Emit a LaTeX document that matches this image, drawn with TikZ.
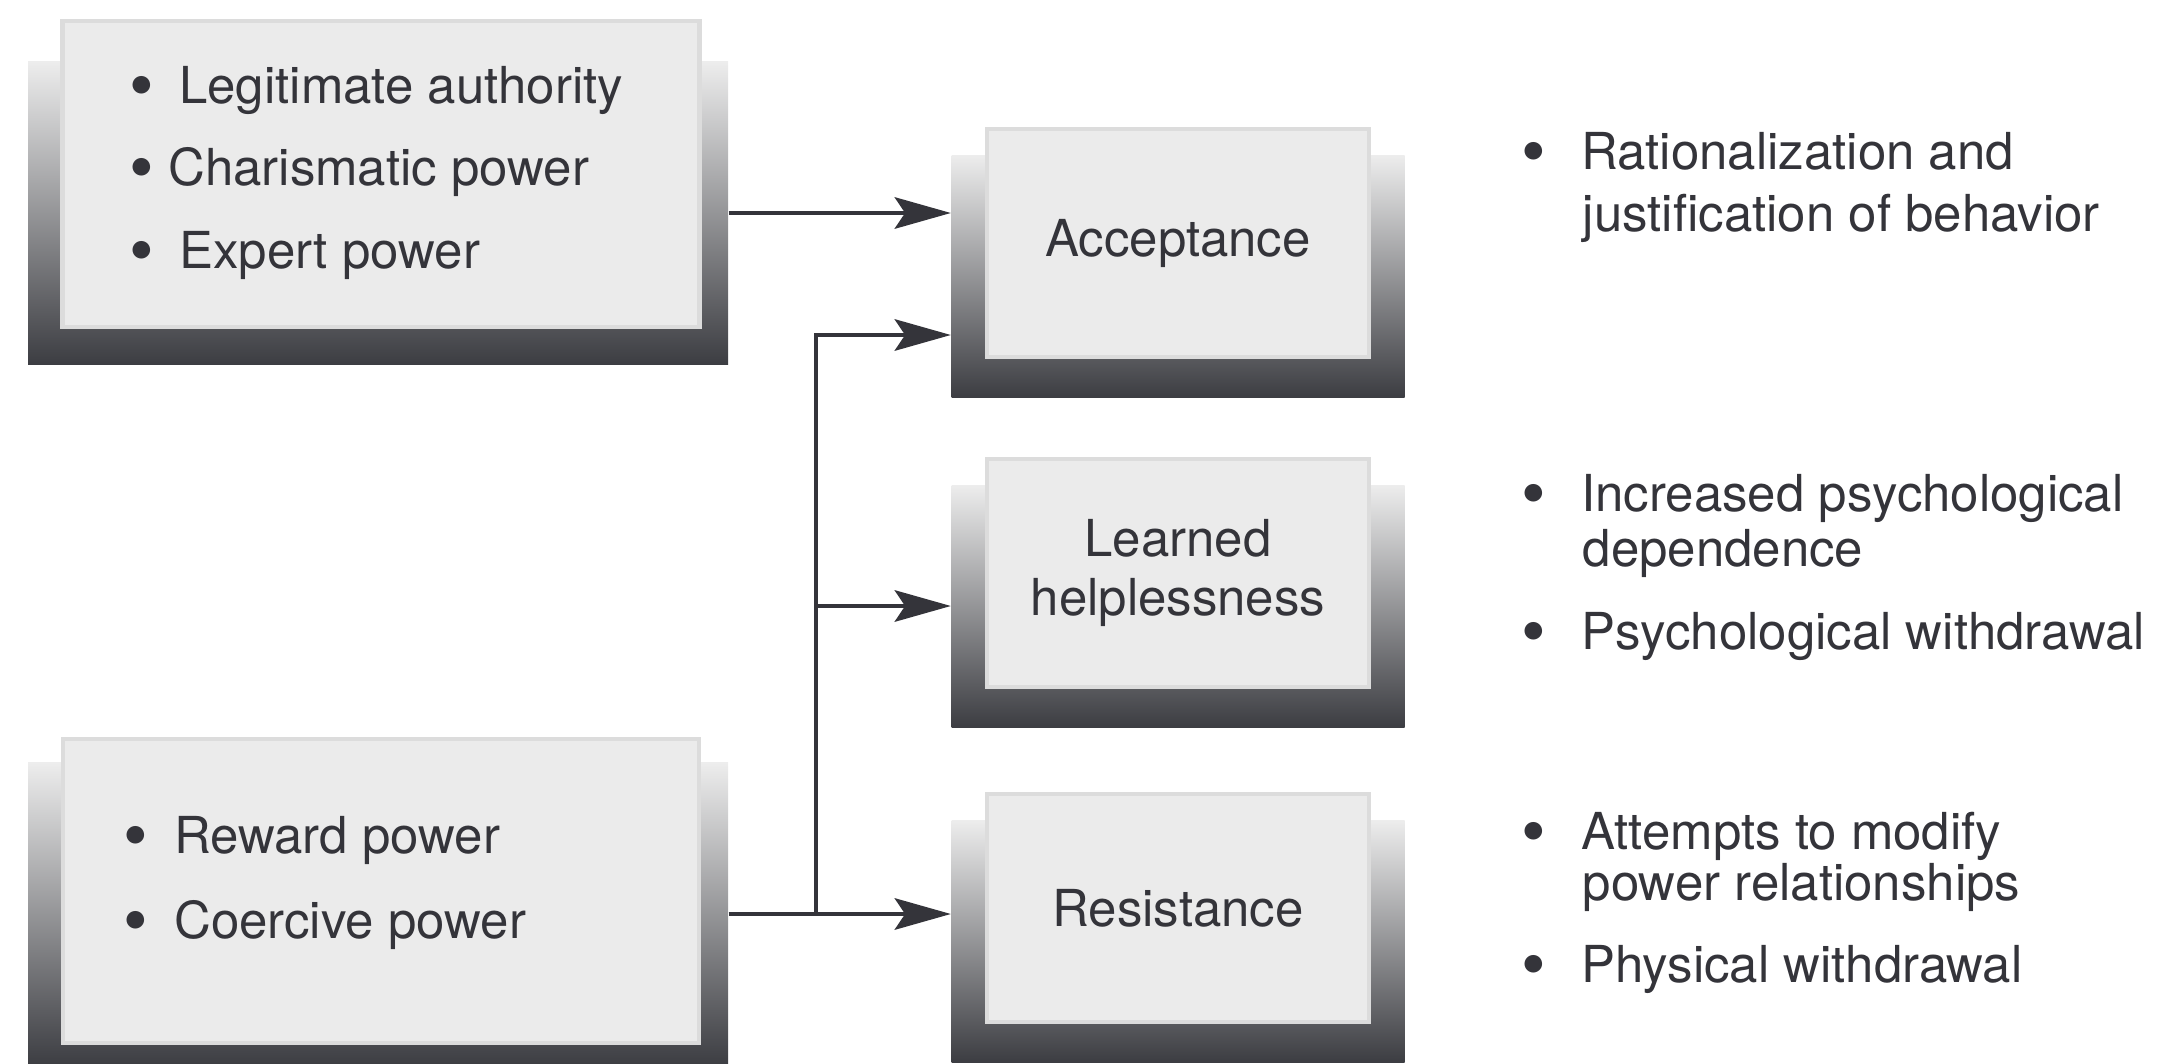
\documentclass[tikz,border=0pt]{standalone}
\usepackage{fontspec}
\setmainfont{TeX Gyre Heros}
\usetikzlibrary{arrows.meta}
\definecolor{ink}{HTML}{34343A}
\definecolor{panel}{HTML}{EBEBEB}
\definecolor{rim}{HTML}{DCDCDC}
\definecolor{shadetop}{HTML}{EDEDED}
\definecolor{shadebot}{HTML}{3C3D42}
\newcommand{\bul}{\raisebox{-1.8pt}{\fontsize{20}{20}\selectfont\textbullet}}
\tikzset{
  back/.style={rectangle, inner sep=0pt, draw=none, top color=shadetop, bottom color=shadebot},
  front/.style={rectangle, inner sep=0pt, fill=panel, draw=rim, line width=1.4pt, text=ink, align=center},
  item/.style={anchor=base west, inner sep=0pt, text=ink},
  conn/.style={draw=ink, line width=0.9pt, -{Stealth[length=16pt,width=9pt,inset=3pt]}}
}

\begin{document}
\begin{tikzpicture}[x=0.1mm, y=-0.1mm, font=\fontsize{14.5}{17}\selectfont]
  \useasboundingbox (0,0) rectangle (2162,1064);

  % sources of power
  \node[back, minimum width=70mm, minimum height=30.3mm] (topB) at (378,213) {};
  \node[front, minimum width=63.7mm, minimum height=30.6mm] (topF) at (381,174) {};
  \node[back, minimum width=70mm, minimum height=30.3mm] (botB) at (378,914) {};
  \node[front, minimum width=63.6mm, minimum height=30.4mm] (botF) at (381,891) {};

  \node[item] (legit) at (129,103) {\bul\hspace{2.5mm}Legitimate authority};
  \node[item] (charis) at (129,185) {\bul\hspace{1.4mm}Charismatic power};
  \node[item] (expert) at (129,268) {\bul\hspace{2.5mm}Expert power};
  \node[item] (reward) at (123,853) {\bul\hspace{2.6mm}Reward power};
  \node[item] (coerce) at (123,938) {\bul\hspace{2.6mm}Coercive power};

  % responses
  \foreach \nm/\y/\txt in {acc/276/Acceptance, learn/606/{Learned\\helplessness}, res/941/Resistance} {
    \node[back, minimum width=45.3mm, minimum height=24.2mm] (\nm B) at (1178,\y) {};
    \node[front, minimum width=38.2mm, minimum height=22.8mm] (\nm F) at (1178,\y-33) {\txt};
  }

  % consequences
  \node[item] (ratio) at (1521,169) {\bul\hspace{3.5mm}Rationalization and};
  \node[item] (justif) at (1582,231) {justification of behavior};
  \node[item] (depend) at (1521,511) {\bul\hspace{3.5mm}Increased psychological};
  \node[item] (depend2) at (1582,566) {dependence};
  \node[item] (psywd) at (1521,649) {\bul\hspace{3.5mm}Psychological withdrawal};
  \node[item] (modify) at (1521,849) {\bul\hspace{3.5mm}Attempts to modify};
  \node[item] (modify2) at (1582,900) {power relationships};
  \node[item] (phywd) at (1521,982) {\bul\hspace{3.5mm}Physical withdrawal};

  % connectors
  \coordinate (jA) at (816,335);
  \coordinate (jB) at (botB.east -| jA);
  \draw[conn] (topB.east) -- (topB.east -| accB.west);
  \draw[conn] (botB.east) -- (botB.east -| resB.west);
  \draw[conn] (jB) |- (jA -| accB.west);
  \draw[conn] (jB |- learnB.west) -- (learnB.west);
\end{tikzpicture}
\end{document}
